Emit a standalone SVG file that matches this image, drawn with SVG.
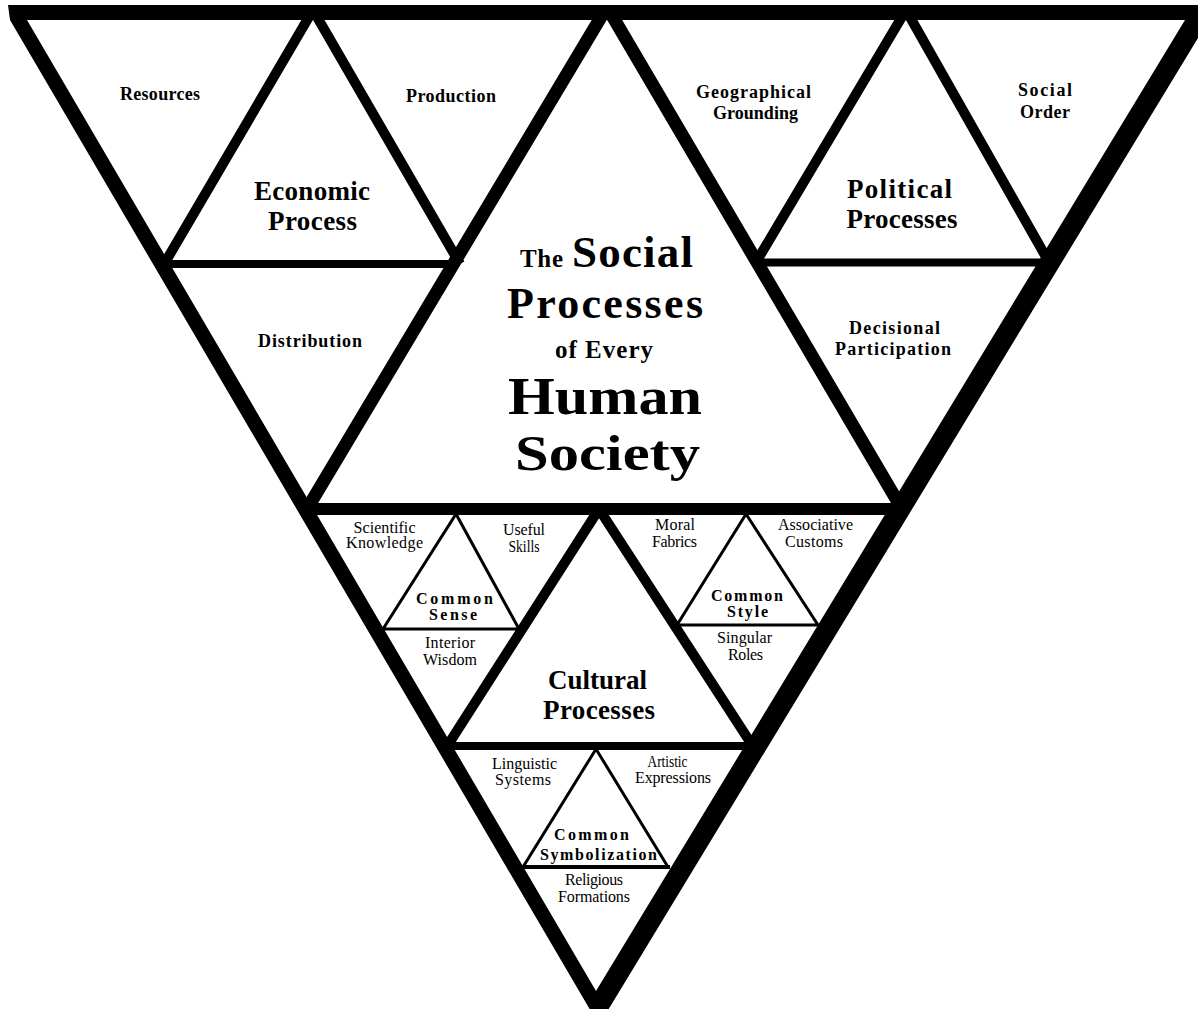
<svg xmlns="http://www.w3.org/2000/svg" width="1198" height="1009" viewBox="0 0 1198 1009">
<style>
text{font-family:"Liberation Serif","Times New Roman",serif;fill:#000;text-anchor:middle}
.t{font-size:18px;font-weight:bold}
.m{font-size:27px;font-weight:bold}
.s{font-size:16px}
.sb{font-size:16px;font-weight:bold}
.b{font-weight:bold}
.w13{stroke:#000;stroke-width:13;fill:none;stroke-linejoin:bevel}
.w10{stroke:#000;stroke-width:10;fill:none;stroke-linejoin:bevel}
.w12{stroke:#000;stroke-width:12;fill:none}
.w8{stroke:#000;stroke-width:8;fill:none}
.w3{stroke:#000;stroke-width:3;fill:none}
</style>
<defs>
<clipPath id="inside"><path d="M8,5 L1218,5 L599,1025 L10,20 Z"/></clipPath>
</defs>
<rect width="1198" height="1009" fill="#fff"/>
<g id="connectors">
<g clip-path="url(#inside)">
<path class="w13" d="M307,509 L607,7 L902,509"/>
<path class="w12" d="M300,509 H905"/>
<path class="w10" d="M163,266 L313,10 L460,264"/>
<path class="w8" d="M160,264 H458"/>
<path class="w10" d="M755,264 L906,10 L1050,264"/>
<path class="w8" d="M752,262.5 H1050"/>
<path class="w10" d="M446,748 L599,509 L754,748"/>
<path class="w8" d="M440,746 H760"/>
<path class="w3" d="M383,629 L456,514 L519,629 Z"/>
<path class="w3" d="M677,625 L746,514 L818,625 Z"/>
<path class="w3" d="M523,867 L596,749 L668,867"/>
<path stroke="#000" stroke-width="4" d="M521,867 H670"/>
</g>
<path id="frame" d="M8,5 L1218,5 L599,1025 L10,20 Z M27,20 L1185,20 L596,991 Z" fill="#000" fill-rule="evenodd"/>
</g>
<g id="economic">
<text class="t" x="160" y="100" textLength="80">Resources</text>
<text class="t" x="451" y="102" textLength="90">Production</text>
<text class="m" x="312" y="200" textLength="116">Economic</text>
<text class="m" x="312.5" y="230" textLength="89">Process</text>
<text class="t" x="310" y="347" textLength="104">Distribution</text>
</g>
<g id="political">
<text class="t" x="753.5" y="98" textLength="115">Geographical</text>
<text class="t" x="755.5" y="119" textLength="85">Grounding</text>
<text class="t" x="1045" y="96" textLength="54">Social</text>
<text class="t" x="1045" y="118" textLength="50">Order</text>
<text class="m" x="899.5" y="198" textLength="105">Political</text>
<text class="m" x="902" y="228" textLength="111">Processes</text>
<text class="t" x="894.5" y="334" textLength="91">Decisional</text>
<text class="t" x="893" y="355" textLength="116">Participation</text>
</g>
<g id="title">
<text class="b" x="541.5" y="266.7" font-size="25" textLength="43">The</text>
<text class="b" x="632.5" y="266.7" font-size="45" textLength="121">Social</text>
<text class="b" x="605" y="318" font-size="44" textLength="196">Processes</text>
<text class="b" x="604" y="358" font-size="25" textLength="98">of Every</text>
<text class="b" x="605" y="414" font-size="52" textLength="194" lengthAdjust="spacingAndGlyphs">Human</text>
<text class="b" x="607.5" y="469.5" font-size="50" textLength="185" lengthAdjust="spacingAndGlyphs">Society</text>
</g>
<g id="common-sense">
<text class="s" x="384.5" y="533" textLength="62">Scientific</text>
<text class="s" x="384.5" y="548" textLength="77">Knowledge</text>
<text class="s" x="524" y="535" textLength="42">Useful</text>
<text class="s" x="524" y="551.5" textLength="31" lengthAdjust="spacingAndGlyphs">Skills</text>
<text class="sb" x="454.5" y="604" textLength="77">Common</text>
<text class="sb" x="453" y="620" textLength="48">Sense</text>
<text class="s" x="450" y="648" textLength="50">Interior</text>
<text class="s" x="450" y="665" textLength="54">Wisdom</text>
</g>
<g id="common-style">
<text class="s" x="675" y="530" textLength="40">Moral</text>
<text class="s" x="674.5" y="546.7" textLength="45">Fabrics</text>
<text class="s" x="815.5" y="530" textLength="75">Associative</text>
<text class="s" x="814" y="546.7" textLength="58">Customs</text>
<text class="sb" x="747" y="600.7" textLength="72">Common</text>
<text class="sb" x="747.5" y="616.7" textLength="41">Style</text>
<text class="s" x="744.5" y="643" textLength="55">Singular</text>
<text class="s" x="745.5" y="660" textLength="35">Roles</text>
</g>
<g id="cultural">
<text class="m" x="597.5" y="688.5" textLength="99">Cultural</text>
<text class="m" x="599" y="718.5" textLength="112">Processes</text>
</g>
<g id="common-symbolization">
<text class="s" x="524.5" y="769.3" textLength="65">Linguistic</text>
<text class="s" x="523" y="785" textLength="56">Systems</text>
<text class="s" x="667.5" y="766.7" textLength="40" lengthAdjust="spacingAndGlyphs">Artistic</text>
<text class="s" x="673" y="782.7" textLength="76">Expressions</text>
<text class="sb" x="591.5" y="840" textLength="75">Common</text>
<text class="sb" x="598.5" y="860" textLength="117">Symbolization</text>
<text class="s" x="594" y="885" textLength="58">Religious</text>
<text class="s" x="594" y="901.7" textLength="72">Formations</text>
</g>
</svg>
